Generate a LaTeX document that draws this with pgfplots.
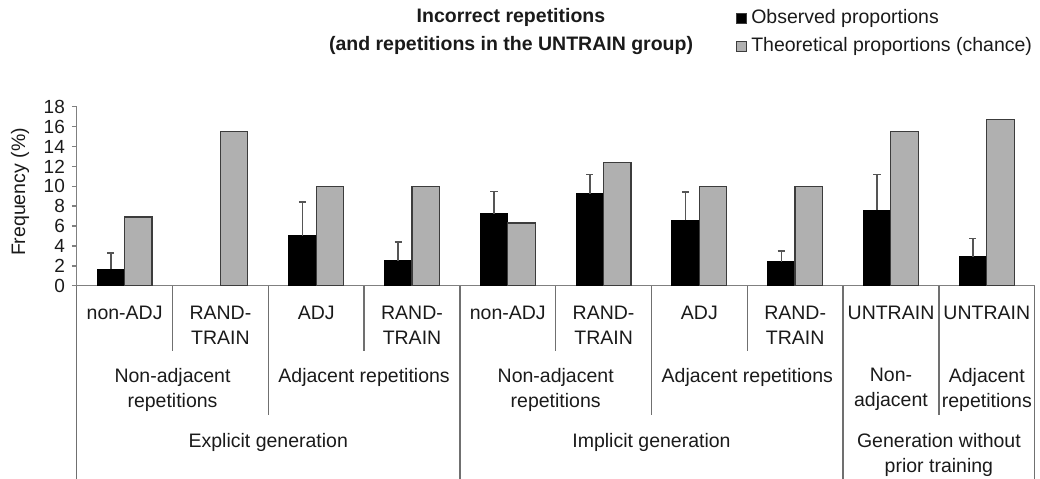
\documentclass[border=0pt]{standalone}
\usepackage{fontspec}
\setmainfont{Liberation Sans}
\usepackage{pgfplots}
\pgfplotsset{compat=1.18}
\usepackage{pgfplotstable}
\definecolor{bargray}{HTML}{B0B0B0}
\definecolor{edge}{HTML}{3C3C3C}
\definecolor{axgray}{HTML}{808080}
\definecolor{sepgray}{HTML}{707070}
\definecolor{errgray}{HTML}{555555}
\definecolor{txt}{HTML}{1A1A1A}
\pgfplotstableread{
x obs err theo
0 1.68 1.62 6.9
1 nan nan 15.5
2 5.03 3.36 10.0
3 2.52 1.85 10.0
4 7.24 2.22 6.3
5 9.26 1.91 12.4
6 6.58 2.85 10.0
7 2.42 1.07 10.0
8 7.58 3.59 15.5
9 2.89 1.84 16.7
}\data
\begin{document}
\begin{tikzpicture}[font=\fontsize{9.75}{12.5}\selectfont, text=txt]
\path[use as bounding box] (0,0) rectangle (520pt,-239pt);
\begin{axis}[
  at={(38.35pt,-142.85pt)}, anchor=south west,
  scale only axis, width=478.9pt, height=89.5pt,
  xmin=-0.5, xmax=9.5, ymin=0, ymax=18,
  ybar=0pt, bar width=0.287,
  axis x line=bottom, axis y line=left,
  axis line style={-, draw=axgray, line width=0.75pt},
  xtick=\empty,
  ytick={0,2,...,18},
  tick align=outside, major tick length=2.4pt,
  ytick style={draw=axgray, line width=0.75pt},
  yticklabel style={font=\fontsize{9.5}{11}\selectfont, text=txt},
  /pgf/number format/assume math mode=true,
  clip=false,
  legend style={at={(axis description cs:0.6884,1.5486)}, anchor=north west,
    draw=none, fill=none, inner sep=0pt, outer sep=0pt, row sep=4pt,
    nodes={inner sep=0.5pt, text height=7pt, text depth=2pt, anchor=west},
    font=\fontsize{9.75}{11}\selectfont},
  legend cell align=left,
  legend image code/.code={\draw[#1, draw=edge, line width=0.5pt] (0pt,-2.4pt) rectangle (5pt,2.4pt);},
]
\addplot[fill=black, draw=black, line width=0.5pt,
  error bars/.cd, y dir=plus, y explicit, error mark=|,
  error bar style={draw=errgray, line width=0.8pt},
  error mark options={draw=errgray, line width=0.8pt, mark size=1.8pt}]
  table[x=x, y=obs, y error=err] {\data};
\addlegendentry{\,Observed proportions}
\addplot[fill=bargray, draw=edge, line width=0.6pt]
  table[x=x, y=theo] {\data};
\addlegendentry{\,Theoretical proportions (chance)}
\end{axis}
\begin{scope}[x=0.5pt, y=-0.5pt, sepline/.style={draw=sepgray, line width=0.65pt}]
\foreach \k in {0,4,8,10} \draw[sepline] ({76.7+95.8*\k},285.7) -- ({76.7+95.8*\k},480);
\foreach \k in {2,6,9} \draw[sepline] ({76.7+95.8*\k},285.7) -- ({76.7+95.8*\k},415);
\foreach \k in {1,3,5,7} \draw[sepline] ({76.7+95.8*\k},285.7) -- ({76.7+95.8*\k},351);
% level 1
\node at (124.6,313) {non-ADJ};
\node[align=center] at (220.4,325.5) {RAND-\\TRAIN};
\node at (316.2,313) {ADJ};
\node[align=center] at (412.0,325.5) {RAND-\\TRAIN};
\node at (507.8,313) {non-ADJ};
\node[align=center] at (603.6,325.5) {RAND-\\TRAIN};
\node at (699.4,313) {ADJ};
\node[align=center] at (795.2,325.5) {RAND-\\TRAIN};
\node at (891.0,313) {UNTRAIN};
\node at (986.8,313) {UNTRAIN};
% level 2
\node[align=center] at (172.5,389.5) {Non-adjacent\\repetitions};
\node at (364.1,377) {Adjacent repetitions};
\node[align=center] at (555.7,389.5) {Non-adjacent\\repetitions};
\node at (747.3,377) {Adjacent repetitions};
\node[align=center] at (891.0,389.5) {Non-\\adjacent};
\node[align=center] at (986.8,389.5) {Adjacent\\repetitions};
% level 3
\node at (268.3,442) {Explicit generation};
\node at (651.5,442) {Implicit generation};
\node[align=center] at (938.9,454.5) {Generation without\\prior training};
% title and y label
\node[align=center, font=\bfseries\fontsize{9.75}{14}\selectfont] at (511,31) {Incorrect repetitions\\(and repetitions in the UNTRAIN group)};
\node[rotate=90] at (20,192) {Frequency (\%)};
\end{scope}
\end{tikzpicture}
\end{document}
